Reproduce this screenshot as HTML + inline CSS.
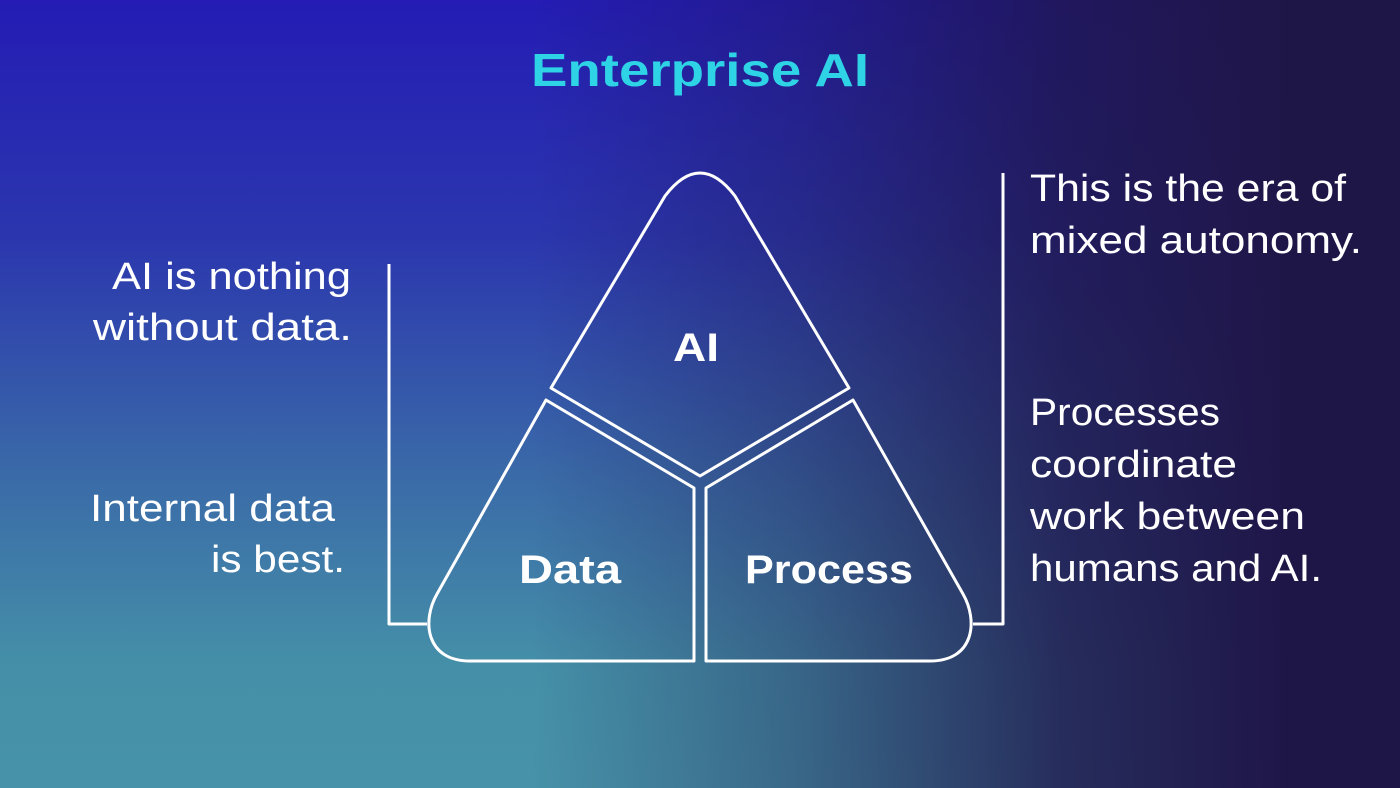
<!DOCTYPE html>
<html><head><meta charset="utf-8"><style>
html,body{margin:0;padding:0;width:1400px;height:788px;overflow:hidden}
body{background:
linear-gradient(to right, rgba(31,22,75,0) 38%, rgba(31,22,75,0.35) 57%, rgba(31,22,75,0.82) 76%, #1f1648 92%),
linear-gradient(to bottom, #241cb4 0%, #2b36ae 30%, #3a6aa8 60%, #4590a8 85%, #4792a8 100%);}
svg{position:absolute;left:0;top:0}
text{font-family:"Liberation Sans",sans-serif;fill:#fff}
</style></head><body>
<svg width="1400" height="788" viewBox="0 0 1400 788">
<g fill="none" stroke="#fff" stroke-width="3" stroke-linejoin="round">
<path d="M551,388 L665,196 Q700,150 735,196 L849,388 L700,476 Z"/>
<path d="M546,400 L694,488 L694,661 L470,661 C425,661 422,620 437,594 Z"/>
<path d="M853,400 L706,488 L706,661 L930,661 C975,661 978,620 963,594 Z"/>
<path d="M389,264 L389,624 L427,624"/>
<path d="M1003,173 L1003,624 L973,624"/>
</g>
<text x="531" y="86" font-size="46" font-weight="bold" style="fill:#2fd3e6" textLength="338" lengthAdjust="spacingAndGlyphs">Enterprise AI</text>
<text x="673" y="361" font-size="40" font-weight="bold" textLength="46" lengthAdjust="spacingAndGlyphs">AI</text>
<text x="519" y="583" font-size="40" font-weight="bold" textLength="102" lengthAdjust="spacingAndGlyphs">Data</text>
<text x="745" y="583" font-size="40" font-weight="bold" textLength="168" lengthAdjust="spacingAndGlyphs">Process</text>
<g font-size="38">
<text x="1030" y="201" textLength="316" lengthAdjust="spacingAndGlyphs">This is the era of</text>
<text x="1030" y="253" textLength="332" lengthAdjust="spacingAndGlyphs">mixed autonomy.</text>
<text x="1030" y="425" textLength="190" lengthAdjust="spacingAndGlyphs">Processes</text>
<text x="1030" y="477" textLength="207" lengthAdjust="spacingAndGlyphs">coordinate</text>
<text x="1030" y="529" textLength="275" lengthAdjust="spacingAndGlyphs">work between</text>
<text x="1030" y="581" textLength="292" lengthAdjust="spacingAndGlyphs">humans and AI.</text>
<text x="112" y="289" textLength="239" lengthAdjust="spacingAndGlyphs">AI is nothing</text>
<text x="93" y="340" textLength="259" lengthAdjust="spacingAndGlyphs">without data.</text>
<text x="90" y="521" textLength="245" lengthAdjust="spacingAndGlyphs">Internal data</text>
<text x="211" y="572" textLength="134" lengthAdjust="spacingAndGlyphs">is best.</text>
</g>
</svg>
</body></html>
